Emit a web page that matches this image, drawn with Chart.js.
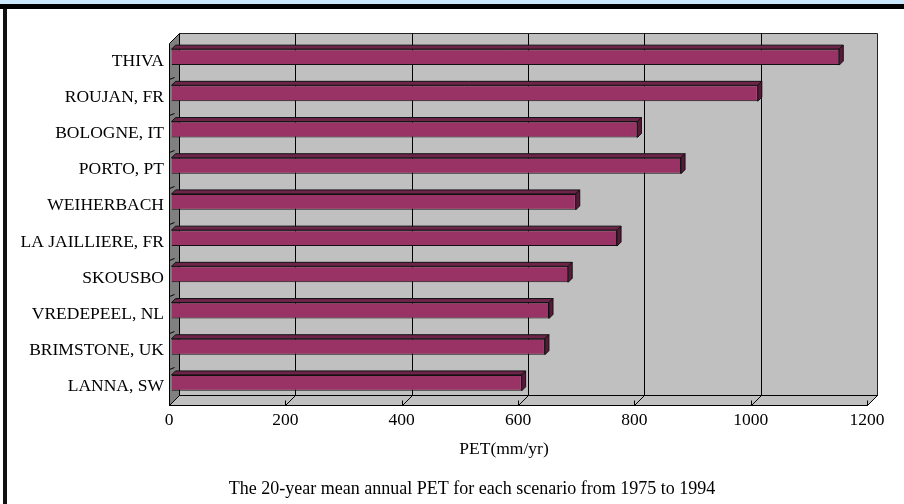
<!DOCTYPE html>
<html>
<head>
<meta charset="utf-8">
<title>PET by scenario</title>
<script src="https://cdn.jsdelivr.net/npm/chart.js@4.4.1/dist/chart.umd.min.js"></script>
<style>
  html, body { margin: 0; padding: 0; background: #fff; }
  #wrap { position: relative; width: 904px; height: 504px; overflow: hidden; }
  #topStrip { position: absolute; left: 0; top: 0; width: 904px; height: 4px; background: #cbe7fb; }
  #topRule { position: absolute; left: 0; top: 4px; width: 904px; height: 5px; background: #000; }
  #leftRule { position: absolute; left: 3px; top: 9px; width: 4px; height: 495px; background: #111; }
  canvas { position: absolute; left: 0; top: 0; }
</style>
</head>
<body>
<div id="wrap">
  <div id="topStrip"></div>
  <div id="topRule"></div>
  <div id="leftRule"></div>
  <canvas id="petChart" width="904" height="504"></canvas>
</div>
<script>
const sites = ['THIVA', 'ROUJAN, FR', 'BOLOGNE, IT', 'PORTO, PT', 'WEIHERBACH',
               'LA JAILLIERE, FR', 'SKOUSBO', 'VREDEPEEL, NL', 'BRIMSTONE, UK', 'LANNA, SW'];
const petValues = [1148, 1008, 801, 876, 695, 766, 682, 649, 642, 602];
const petTicks = [0, 200, 400, 600, 800, 1000, 1200];

const axisTitle = 'PET(mm/yr)';
const caption = 'The 20-year mean annual PET for each scenario from 1975 to 1994';

const FONT = 'Liberation Serif, Times New Roman, serif';
const DEPTH_X = 10, DEPTH_Y = 10;   // depth of the walls and floor
const BAR_DX = 2.5, BAR_DY = -4;    // bars sit a little behind the front edge
const BAR_SIDE = 4;                 // depth of each bar's top and end faces

function crisp(v) { return Math.round(v) + 0.5; }

function poly(ctx, pts, fill, stroke) {
  ctx.beginPath();
  pts.forEach(([px, py], i) => i ? ctx.lineTo(px, py) : ctx.moveTo(px, py));
  ctx.closePath();
  if (fill) { ctx.fillStyle = fill; ctx.fill(); }
  if (stroke) { ctx.strokeStyle = stroke; ctx.stroke(); }
}

function line(ctx, x1, y1, x2, y2) {
  ctx.beginPath();
  ctx.moveTo(x1, y1);
  ctx.lineTo(x2, y2);
  ctx.stroke();
}

// walls, floor and gridlines behind the bars, then the 3D faces of each bar
const box3d = {
  id: 'box3d',
  beforeDatasetsDraw(chart) {
    const { ctx, chartArea: a, scales: { x, y } } = chart;
    const l = crisp(a.left), r = crisp(a.right), t = crisp(a.top), b = crisp(a.bottom);
    const bl = l + DEPTH_X, br = r + DEPTH_X, bt = t - DEPTH_Y, bb = b - DEPTH_Y;

    ctx.save();
    ctx.lineWidth = 1;
    poly(ctx, [[bl, bt], [br, bt], [br, bb], [bl, bb]], '#c0c0c0', '#222');
    poly(ctx, [[l, b], [r, b], [br, bb], [bl, bb]], '#c0c0c0', '#000');
    poly(ctx, [[l, t], [bl, bt], [bl, bb], [l, b]], '#808080', '#000');

    ctx.strokeStyle = '#000';
    x.ticks.forEach((tk, i) => {
      const px = crisp(x.getPixelForValue(tk.value));
      if (i > 0 && i < x.ticks.length - 1) line(ctx, px + DEPTH_X, bt, px + DEPTH_X, bb);
      line(ctx, px, b, px + DEPTH_X, bb);
      line(ctx, px, b, px, b - 5);
    });

    for (let i = 1; i < y.ticks.length; i++) {
      const py = crisp((y.getPixelForTick(i - 1) + y.getPixelForTick(i)) / 2);
      line(ctx, l, py, l + 5, py - 2);
    }
    ctx.restore();

    ctx.save();
    ctx.translate(BAR_DX, BAR_DY);
  },
  afterDatasetsDraw(chart) {
    const ctx = chart.ctx;
    ctx.lineWidth = 1;
    chart.getDatasetMeta(0).data.forEach(bar => {
      const { x, y, base, height } = bar.getProps(['x', 'y', 'base', 'height'], true);
      const top = y - height / 2, bot = y + height / 2;
      poly(ctx, [[base, top], [x, top], [x + BAR_SIDE, top - BAR_SIDE], [base + BAR_SIDE, top - BAR_SIDE]], '#6d2449', '#111');
      poly(ctx, [[x, top], [x + BAR_SIDE, top - BAR_SIDE], [x + BAR_SIDE, bot - BAR_SIDE], [x, bot]], '#561b39', '#111');
    });
    ctx.restore();
  },
  afterDraw(chart) {
    const { ctx, chartArea: a } = chart;
    const mid = (a.left + a.right) / 2;
    ctx.save();
    ctx.fillStyle = '#000';
    ctx.textAlign = 'center';
    ctx.textBaseline = 'middle';
    ctx.font = '17.5px ' + FONT;
    ctx.fillText(axisTitle, mid - 14, a.bottom + 44);
    ctx.font = '18px ' + FONT;
    ctx.fillText(caption, mid - 46, a.bottom + 84);
    ctx.restore();
  }
};

new Chart(document.getElementById('petChart'), {
  type: 'bar',
  data: {
    labels: sites,
    datasets: [{
      data: petValues,
      backgroundColor: '#993366',
      borderColor: '#111',
      borderWidth: 1,
      barPercentage: 0.44,
      categoryPercentage: 1
    }]
  },
  options: {
    indexAxis: 'y',
    responsive: false,
    animation: false,
    layout: { padding: { left: 0, right: 37, top: 43, bottom: 69 } },
    plugins: {
      legend: { display: false },
      tooltip: { enabled: false }
    },
    scales: {
      x: {
        min: 0,
        max: 1200,
        afterBuildTicks: scale => { scale.ticks = petTicks.map(v => ({ value: v })); },
        afterFit: scale => { scale.height = 30; },
        grid: { display: false, drawTicks: false },
        border: { display: false },
        ticks: {
          color: '#000', padding: 5, maxRotation: 0,
          font: { family: FONT, size: 17.5 },
          callback: v => String(v)
        }
      },
      y: {
        afterFit: scale => { scale.width = 169; },
        grid: { display: false, drawTicks: false },
        border: { display: false },
        ticks: { color: '#000', padding: 5, font: { family: FONT, size: 17.5 } }
      }
    }
  },
  plugins: [box3d]
});
</script>
</body>
</html>
